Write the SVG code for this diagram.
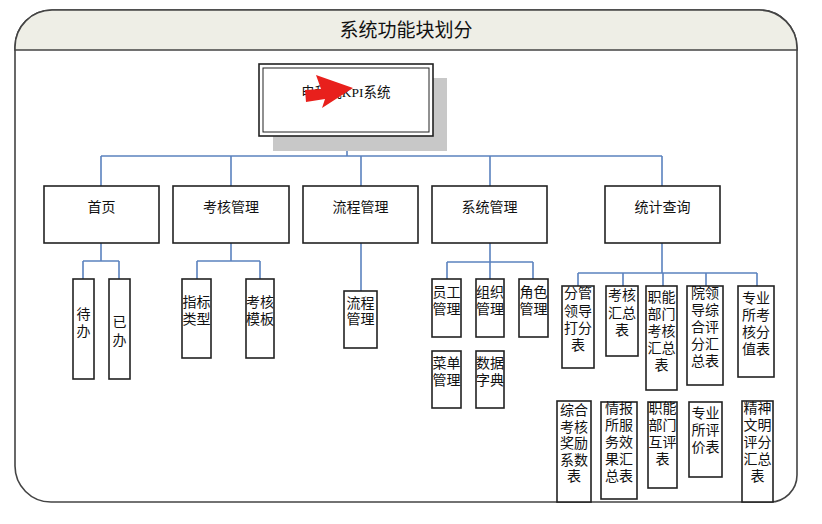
<svg xmlns="http://www.w3.org/2000/svg" width="822" height="524" viewBox="0 0 822 524">
<style>
.frame{fill:#fff;stroke:#444;stroke-width:1.6}
.bar{fill:#eeeee6;stroke:#444;stroke-width:1.6}
.box{fill:#fff;stroke:#222;stroke-width:1.6}
.conn{fill:none;stroke:#5b82bf;stroke-width:1.6}
text{font-family:"Liberation Sans","Noto Sans CJK SC",sans-serif;fill:#111;text-anchor:middle;dominant-baseline:central}
.t1{font-size:14px}
.t2{font-size:14px}
.title{font-size:19px}
</style>
<g id="frame">
<path class="frame" d="M15,47 A37,37 0 0 1 52,10 H759 A38,38 0 0 1 797,48 V475 A27,27 0 0 1 770,502 H51 A36,36 0 0 1 15,466 Z"/>
<path class="bar" d="M15,50 V47 A37,37 0 0 1 52,10 H759 A38,38 0 0 1 797,48 V50 Z"/>
<text class="title" x="406" y="30">系统功能块划分</text>
</g>
<g id="connectors">
<path class="conn" d="M347,136 V156 M101,156 H662 M101,156 V186 M231,156 V186 M361,156 V186 M490,156 V186 M662,156 V186"/>
<path class="conn" d="M101,243 V261 M83,261 H119 M83,261 V279 M119,261 V279"/>
<path class="conn" d="M231,243 V261 M197,261 H260 M197,261 V279 M260,261 V279"/>
<path class="conn" d="M361,243 V291"/>
<path class="conn" d="M490,243 V262 M447,262 H533 M447,262 V279 M490,262 V279 M533,262 V279"/>
<path class="conn" d="M662,243 V273 M578,273 H757 M578,273 V286 M623,273 V286 M663,273 V286 M706,273 V286 M757,273 V286"/>
</g>
<g id="root">
<rect x="273" y="78" width="174" height="73" fill="#c8c8c8"/>
<rect x="259" y="64" width="174" height="72" fill="#fff" stroke="#222" stroke-width="1.6"/>
<rect x="263" y="68" width="166" height="64" fill="none" stroke="#222" stroke-width="1"/>
<text x="346" y="92" style="font-family:'Liberation Serif','Noto Sans CJK SC',serif;font-size:13.5px">电科院KPI系统</text>
<polygon points="305,90 321,89 316,75 353,88 322,108 325,99 306,102" fill="#e8201c"/>
</g>
<g id="n-home"><rect class="box" x="44" y="186" width="115" height="57"/><text class="t1" x="101.5" y="207">首页</text></g>
<g id="n-kh"><rect class="box" x="173" y="186" width="116" height="57"/><text class="t1" x="231" y="207">考核管理</text></g>
<g id="n-lc"><rect class="box" x="303" y="186" width="115" height="57"/><text class="t1" x="360.5" y="207">流程管理</text></g>
<g id="n-xt"><rect class="box" x="432" y="186" width="115" height="57"/><text class="t1" x="489.5" y="207">系统管理</text></g>
<g id="n-tj"><rect class="box" x="605" y="186" width="115" height="57"/><text class="t1" x="662.5" y="207">统计查询</text></g>

<g id="n-db"><rect class="box" x="73" y="279" width="21" height="100"/><text class="t2" x="83.5" y="314">待<tspan x="83.5" dy="17">办</tspan></text></g>
<g id="n-yb"><rect class="box" x="109" y="279" width="21" height="100"/><text class="t2" x="119.5" y="322">已<tspan x="119.5" dy="18">办</tspan></text></g>
<g id="n-zblx"><rect class="box" x="182" y="279" width="29" height="79"/><text class="t2" x="196.5" y="302">指标<tspan x="196.5" dy="17">类型</tspan></text></g>
<g id="n-khmb"><rect class="box" x="246" y="279" width="28" height="79"/><text class="t2" x="260" y="302">考核<tspan x="260" dy="17">模板</tspan></text></g>
<g id="n-lcgl"><rect class="box" x="344" y="291" width="33" height="57"/><text class="t2" x="360.5" y="303">流程<tspan x="360.5" dy="16">管理</tspan></text></g>
<g id="n-yg"><rect class="box" x="432" y="279" width="29" height="58"/><text class="t2" x="446.5" y="292">员工<tspan x="446.5" dy="17">管理</tspan></text></g>
<g id="n-zz"><rect class="box" x="476" y="279" width="28" height="58"/><text class="t2" x="490" y="292">组织<tspan x="490" dy="17">管理</tspan></text></g>
<g id="n-js"><rect class="box" x="519" y="279" width="29" height="58"/><text class="t2" x="533.5" y="292">角色<tspan x="533.5" dy="17">管理</tspan></text></g>
<g id="n-cd"><rect class="box" x="432" y="351" width="29" height="57"/><text class="t2" x="446.5" y="363">菜单<tspan x="446.5" dy="17">管理</tspan></text></g>
<g id="n-sj"><rect class="box" x="476" y="351" width="28" height="57"/><text class="t2" x="490" y="363">数据<tspan x="490" dy="17">字典</tspan></text></g>

<g id="n-s1"><rect class="box" x="562" y="286" width="32" height="82"/><text class="t2" x="578" y="293">分管<tspan x="578" dy="17.5">领导</tspan><tspan x="578" dy="17">打分</tspan><tspan x="578" dy="17">表</tspan></text></g>
<g id="n-s2"><rect class="box" x="606" y="286" width="32" height="70"/><text class="t2" x="622" y="295">考核<tspan x="622" dy="17.5">汇总</tspan><tspan x="622" dy="17.5">表</tspan></text></g>
<g id="n-s3"><rect class="box" x="646" y="286" width="31" height="104"/><text class="t2" x="661.5" y="297">职能<tspan x="661.5" dy="17">部门</tspan><tspan x="661.5" dy="17">考核</tspan><tspan x="661.5" dy="17">汇总</tspan><tspan x="661.5" dy="17">表</tspan></text></g>
<g id="n-s4"><rect class="box" x="687" y="286" width="36" height="99"/><text class="t2" x="705" y="293">院领<tspan x="705" dy="17">导综</tspan><tspan x="705" dy="17">合评</tspan><tspan x="705" dy="17">分汇</tspan><tspan x="705" dy="17">总表</tspan></text></g>
<g id="n-s5"><rect class="box" x="738" y="286" width="36" height="91"/><text class="t2" x="756" y="298">专业<tspan x="756" dy="17">所考</tspan><tspan x="756" dy="17">核分</tspan><tspan x="756" dy="17">值表</tspan></text></g>

<g id="n-s6"><rect class="box" x="557" y="401" width="34" height="101"/><text class="t2" x="574" y="410">综合<tspan x="574" dy="16.5">考核</tspan><tspan x="574" dy="16.5">奖励</tspan><tspan x="574" dy="16.5">系数</tspan><tspan x="574" dy="16.5">表</tspan></text></g>
<g id="n-s7"><rect class="box" x="601" y="402" width="36" height="97"/><text class="t2" x="619" y="408">情报<tspan x="619" dy="17">所服</tspan><tspan x="619" dy="17">务效</tspan><tspan x="619" dy="17">果汇</tspan><tspan x="619" dy="16.5">总表</tspan></text></g>
<g id="n-s8"><rect class="box" x="648" y="402" width="29" height="86"/><text class="t2" x="662.5" y="408">职能<tspan x="662.5" dy="17">部门</tspan><tspan x="662.5" dy="17">互评</tspan><tspan x="662.5" dy="17">表</tspan></text></g>
<g id="n-s9"><rect class="box" x="689" y="402" width="33" height="75"/><text class="t2" x="705.5" y="413">专业<tspan x="705.5" dy="17">所评</tspan><tspan x="705.5" dy="17">价表</tspan></text></g>
<g id="n-s10"><rect class="box" x="742" y="401" width="31" height="101"/><text class="t2" x="757.5" y="408">精神<tspan x="757.5" dy="17">文明</tspan><tspan x="757.5" dy="17">评分</tspan><tspan x="757.5" dy="17">汇总</tspan><tspan x="757.5" dy="17">表</tspan></text></g>
</svg>
